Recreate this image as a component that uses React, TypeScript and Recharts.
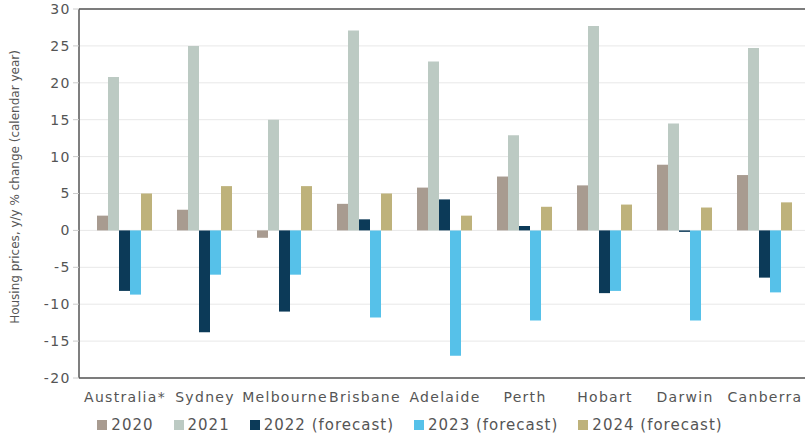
import React from 'react';
import {
  BarChart,
  Bar,
  XAxis,
  YAxis,
  CartesianGrid,
  ReferenceLine,
  Legend,
} from 'recharts';

const cities = ['Australia*', 'Sydney', 'Melbourne', 'Brisbane', 'Adelaide', 'Perth', 'Hobart', 'Darwin', 'Canberra'];

const y2020 = [2.0, 2.8, -1.0, 3.6, 5.8, 7.3, 6.1, 8.9, 7.5];
const y2021 = [20.8, 25.0, 15.0, 27.1, 22.9, 12.9, 27.7, 14.5, 24.7];
const y2022 = [-8.2, -13.8, -11.0, 1.5, 4.2, 0.6, -8.5, -0.2, -6.4];
const y2023 = [-8.7, -6.0, -6.0, -11.8, -17.0, -12.2, -8.2, -12.2, -8.4];
const y2024 = [5.0, 6.0, 6.0, 5.0, 2.0, 3.2, 3.5, 3.1, 3.8];

const yTicks = [30, 25, 20, 15, 10, 5, 0, -5, -10, -15, -20];

const SERIES = [
  { key: 'y2020', name: '2020', color: '#a89b90' },
  { key: 'y2021', name: '2021', color: '#bccac3' },
  { key: 'y2022', name: '2022 (forecast)', color: '#0c3a58' },
  { key: 'y2023', name: '2023 (forecast)', color: '#56c1e9' },
  { key: 'y2024', name: '2024 (forecast)', color: '#beb27b' },
];

const data = cities.map((city, i) => ({
  city,
  y2020: y2020[i],
  y2021: y2021[i],
  y2022: y2022[i],
  y2023: y2023[i],
  y2024: y2024[i],
}));

const FONT = '"DejaVu Sans", Verdana, sans-serif';
const TEXT = '#555';

const YLabel = () => (
  <text
    x={15}
    y={187}
    transform="rotate(-90 15 187)"
    textAnchor="middle"
    dominantBaseline="central"
    fontFamily={FONT}
    fontSize={12}
    fill={TEXT}
  >
    Housing prices, y/y % change (calendar year)
  </text>
);

const LegendContent = () => (
  <div
    style={{
      display: 'flex',
      justifyContent: 'center',
      gap: 20,
      fontFamily: FONT,
      fontSize: 15,
      letterSpacing: 1,
      color: TEXT,
    }}
  >
    {SERIES.map((s) => (
      <div key={s.key} style={{ display: 'flex', alignItems: 'center' }}>
        <span style={{ width: 10, height: 10, background: s.color, marginRight: 4, display: 'inline-block' }} />
        {s.name}
      </div>
    ))}
  </div>
);

export default function App() {
  return (
    <div style={{ position: 'absolute', left: 0, top: 0, width: 805, height: 438, background: '#fff' }}>
      <BarChart
        width={805}
        height={438}
        data={data}
        margin={{ top: 9, right: 0, bottom: 0, left: 0 }}
        barCategoryGap={12}
        barGap={0}
      >
        <CartesianGrid stroke="#e8e8e8" vertical={false} horizontal={true} />
        <XAxis
          dataKey="city"
          height={42}
          padding={{ left: 6, right: 0 }}
          tickLine={false}
          axisLine={{ stroke: '#555', strokeWidth: 1.5 }}
          tickMargin={8}
          interval={0}
          tick={{ fontFamily: FONT, fontSize: 14, fill: TEXT, letterSpacing: 1.3 }}
        />
        <YAxis
          width={79}
          domain={[-20, 30]}
          ticks={yTicks}
          interval={0}
          tickLine={{ stroke: '#ccc' }}
          tickSize={6}
          axisLine={{ stroke: '#555', strokeWidth: 1.5 }}
          tick={{ fontFamily: FONT, fontSize: 14, fill: TEXT, letterSpacing: 1.5 }}
          label={{ content: () => <YLabel /> }}
        />
        <ReferenceLine y={30} stroke="#555" strokeWidth={1.5} />
        <Legend
          content={() => <LegendContent />}
          wrapperStyle={{ left: 80, width: 660, bottom: 4 }}
        />
        {SERIES.map((s) => (
          <Bar key={s.key} dataKey={s.key} name={s.name} fill={s.color} isAnimationActive={false} />
        ))}
      </BarChart>
    </div>
  );
}
